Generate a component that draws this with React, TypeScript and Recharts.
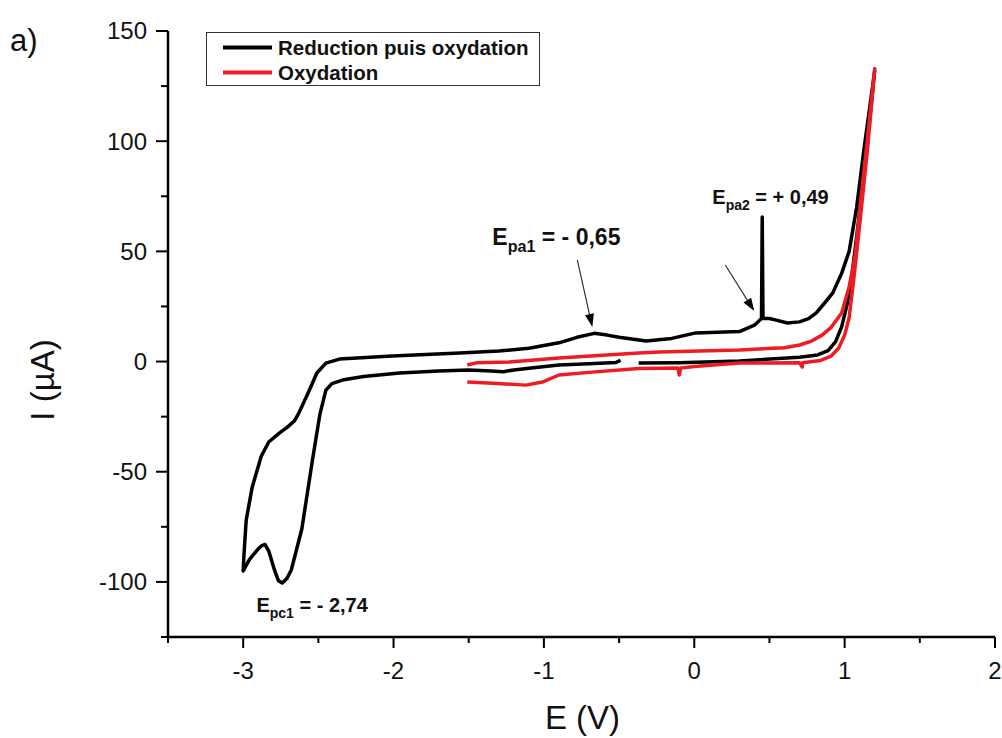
import React from "react";
import { LineChart, Line, XAxis, YAxis, Legend, Label, ReferenceLine, ReferenceDot } from "recharts";

const FONT = "'Liberation Sans', Arial, Helvetica, sans-serif";

// Reduction puis oxydation (black), points in scan order: E (V), I (µA)
const reductionE = [
  -0.49, -0.52, -0.7, -0.9, -1.1, -1.2, -1.27, -1.35, -1.5, -1.7, -1.96, -2.2, -2.34, -2.41, -2.45,
  -2.49, -2.54, -2.61, -2.68, -2.71, -2.74, -2.765, -2.79, -2.83, -2.855, -2.875, -2.9, -2.96, -3.0,
  -2.995, -2.98, -2.94, -2.88, -2.83, -2.76, -2.71, -2.66, -2.63, -2.56, -2.51, -2.45, -2.36, -2.01,
  -1.56, -1.3, -1.1, -0.9, -0.78, -0.665, -0.58, -0.5, -0.32, -0.15, 0.01, 0.3, 0.4, 0.447, 0.452, 0.457,
  0.5, 0.545, 0.62, 0.7, 0.76, 0.81, 0.86, 0.92, 0.98, 1.03, 1.08, 1.13, 1.2,
  1.15, 1.1, 1.05, 1.02, 0.98, 0.94, 0.89, 0.82, 0.7, 0.3, -0.1, -0.37,
];
const reductionI = [
  0.6, -0.4, -1, -1.6, -3, -3.8, -4.6, -4.3, -3.8, -4.3, -5.2, -6.8, -8.4, -10, -13,
  -24, -45, -76, -94.6, -98.5, -100.5, -99.5, -95, -86, -83, -83.5, -85, -90, -95,
  -88, -72, -57, -43, -36.5, -32.5, -30, -27, -23.4, -13, -5.2, -0.7, 1.1, 2.5,
  3.9, 4.8, 6, 8.5, 11, 12.8, 12, 11, 9.3, 10.5, 13, 13.6, 16.5, 19.5, 65.6, 19.5,
  19.5, 18.8, 17.5, 18, 19.5, 22, 26, 31, 40, 50, 70, 97, 132,
  98, 68, 40, 27, 15.7, 9, 5, 3, 2, 0.2, -0.5, -0.7,
];

// Oxydation (red), points in scan order
const oxydationE = [
  -1.51, -1.45, -1.23, -0.9, -0.37, -0.23, 0.3, 0.6, 0.7, 0.78, 0.85, 0.91, 0.98, 1.03, 1.07, 1.11, 1.15, 1.2,
  1.15, 1.1, 1.06, 1.03, 1.0, 0.96, 0.91, 0.84, 0.72, 0.718, 0.7, 0.3, 0.0, -0.09, -0.1, -0.11,
  -0.37, -0.68, -0.9, -1.01, -1.12, -1.34, -1.51,
];
const oxydationI = [
  -1.6, -0.6, -0.2, 1.6, 3.9, 4.3, 5.2, 6.3, 7.5, 9.3, 12, 15.5, 22, 34, 48, 75, 100, 133,
  95, 62, 37, 20, 12, 6, 2.5, 0.5, -0.5, -2.5, -0.6, -0.7, -2.3, -2.9, -6.1, -2.9,
  -3.2, -4.8, -6.1, -9.3, -10.7, -9.8, -9.3,
];

const xTicks = [-3.5, -3, -2.5, -2, -1.5, -1, -0.5, 0, 0.5, 1, 1.5, 2];
const yTicks = [-125, -100, -75, -50, -25, 0, 25, 50, 75, 100, 125, 150];

const seriesOrder = ["Reduction puis oxydation", "Oxydation"];

// peak labels: subscript, value, anchor (E, I)
const peakSubs = ["pc1", "pa1", "pa2"];
const peakValues = ["- 2,74", "- 0,65", "+ 0,49"];
const peakLabelE = [-2.912, -1.343, 0.12];
const peakLabelI = [-113.7, 52.9, 71.5];
const peakFontSizes = [20, 23, 20];

// arrows: start (E, I) -> end (E, I)
const arrowFromE = [-0.778, 0.206];
const arrowFromI = [46.1, 43.8];
const arrowToE = [-0.678, 0.399];
const arrowToI = [15.7, 22.9];

const reductionData = reductionE.map((E, i) => ({ E, I: reductionI[i] }));
const oxydationData = oxydationE.map((E, i) => ({ E, I: oxydationI[i] }));

const XTick = ({ x, y, payload }: any) => {
  const v = payload.value;
  const major = Number.isInteger(v);
  return (
    <g>
      <line x1={x} x2={x} y1={y} y2={y + (major ? 11 : 6)} stroke="#000" strokeWidth={2} />
      {major && (
        <text x={x} y={y + 42} textAnchor="middle" fontSize={24} fontFamily={FONT} fill="#111">
          {v}
        </text>
      )}
    </g>
  );
};

const YTick = ({ x, y, payload }: any) => {
  const v = payload.value;
  const major = v % 50 === 0;
  return (
    <g>
      <line x1={x} x2={x - (major ? 12 : 7)} y1={y} y2={y} stroke="#000" strokeWidth={2} />
      {major && (
        <text x={x - 21} y={y} dy="0.35em" textAnchor="end" fontSize={24} fontFamily={FONT} fill="#111">
          {v}
        </text>
      )}
    </g>
  );
};

const Arrow = (props: any) => {
  const { x1, y1, x2, y2 } = props;
  const a = Math.atan2(y2 - y1, x2 - x1);
  const len = 13;
  const w = 4.5;
  const bx = x2 - len * Math.cos(a);
  const by = y2 - len * Math.sin(a);
  const px = -Math.sin(a) * w;
  const py = Math.cos(a) * w;
  return (
    <g>
      <line x1={x1} y1={y1} x2={bx} y2={by} stroke="#333" strokeWidth={1.2} />
      <polygon points={`${x2},${y2} ${bx + px},${by + py} ${bx - px},${by - py}`} fill="#000" />
    </g>
  );
};

const peakText = (sub: string, value: string, size: number) => (props: any) => (
  <text x={props.cx} y={props.cy} fontSize={size} fontWeight="bold" fontFamily={FONT} fill="#111" style={{ whiteSpace: "pre" }}>
    E
    <tspan fontSize={size * 0.7} dy={size * 0.3}>{sub}</tspan>
    <tspan dy={-size * 0.3}>{" = " + value}</tspan>
  </text>
);

const LegendBox = (props: any) => {
  const items = [...(props.payload || [])].sort(
    (a: any, b: any) => seriesOrder.indexOf(a.value) - seriesOrder.indexOf(b.value)
  );
  return (
    <div style={{ border: "1.5px solid #333", width: 332, height: 50, paddingTop: 2, background: "#fff" }}>
      {items.map((p: any) => (
        <div key={p.value} style={{ display: "flex", alignItems: "center", height: 25 }}>
          <svg width={66} height={25}>
            <line x1={16} x2={65} y1={12.5} y2={12.5} stroke={p.color} strokeWidth={4} />
          </svg>
          <span style={{ marginLeft: 5, fontFamily: FONT, fontWeight: "bold", fontSize: 20.5, color: "#111" }}>{p.value}</span>
        </div>
      ))}
    </div>
  );
};

export default function App() {
  return (
    <div style={{ position: "absolute", left: 0, top: 0, width: 1002, height: 738, background: "#fff" }}>
      <div style={{ position: "absolute", left: 10, top: 25, fontFamily: FONT, fontSize: 31, lineHeight: 1, color: "#111" }}>a)</div>
      <LineChart width={1002} height={738} margin={{ top: 31, right: 7, bottom: 0, left: 0 }}>
        <XAxis
          dataKey="E"
          type="number"
          domain={[-3.5, 2]}
          ticks={xTicks}
          interval={0}
          height={101}
          tickSize={0}
          tickMargin={0}
          tickLine={false}
          tick={<XTick />}
          axisLine={{ stroke: "#000", strokeWidth: 2.5 }}
          allowDataOverflow
        >
          <Label
            content={({ viewBox }: any) => (
              <text x={viewBox.x + viewBox.width / 2 + 1} y={viewBox.y + viewBox.height - 9} textAnchor="middle" fontSize={33} fontFamily={FONT} fill="#111">
                E (V)
              </text>
            )}
          />
        </XAxis>
        <YAxis
          type="number"
          domain={[-125, 150]}
          ticks={yTicks}
          interval={0}
          width={168}
          tickSize={0}
          tickMargin={0}
          tickLine={false}
          tick={<YTick />}
          axisLine={{ stroke: "#000", strokeWidth: 2.5 }}
          allowDataOverflow
        >
          <Label
            content={({ viewBox }: any) => {
              const cx = viewBox.x + 54;
              const cy = 380;
              return (
                <text x={cx} y={cy} transform={`rotate(-90 ${cx} ${cy})`} textAnchor="middle" fontSize={33} fontFamily={FONT} fill="#111">
                  I (µA)
                </text>
              );
            }}
          />
        </YAxis>
        <Legend layout="vertical" align="center" verticalAlign="middle" wrapperStyle={{ left: 206, top: 32 }} content={<LegendBox />} />
        <Line
          data={reductionData}
          dataKey="I"
          name="Reduction puis oxydation"
          type="linear"
          stroke="#000"
          strokeWidth={3.5}
          strokeLinejoin="round"
          dot={false}
          activeDot={false}
          isAnimationActive={false}
        />
        <Line
          data={oxydationData}
          dataKey="I"
          name="Oxydation"
          type="linear"
          stroke="#ed1c24"
          strokeWidth={3.5}
          strokeLinejoin="round"
          dot={false}
          activeDot={false}
          isAnimationActive={false}
        />
        {arrowFromE.map((E, i) => (
          <ReferenceLine
            key={"arrow" + i}
            segment={[{ x: E, y: arrowFromI[i] }, { x: arrowToE[i], y: arrowToI[i] }]}
            shape={<Arrow />}
            ifOverflow="visible"
          />
        ))}
        {peakSubs.map((sub, i) => (
          <ReferenceDot
            key={sub}
            x={peakLabelE[i]}
            y={peakLabelI[i]}
            r={0}
            ifOverflow="visible"
            shape={peakText(sub, peakValues[i], peakFontSizes[i])}
          />
        ))}
      </LineChart>
    </div>
  );
}
